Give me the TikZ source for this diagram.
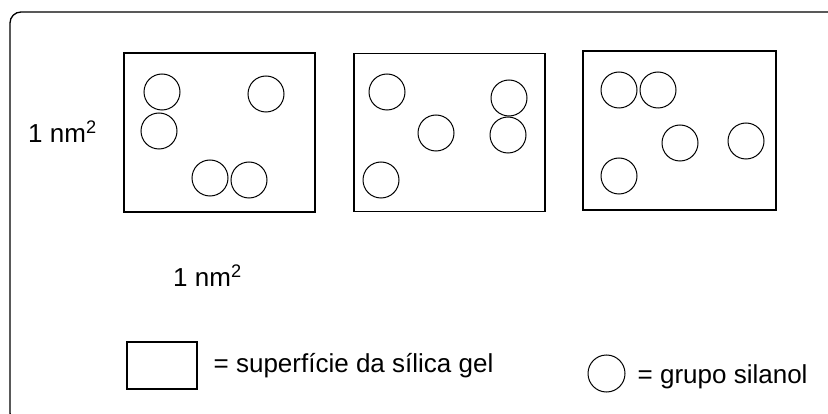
\documentclass[tikz,border=0pt]{standalone}
\usepackage{fontspec}
\setmainfont{Liberation Sans}
\begin{document}
\begin{tikzpicture}[x=1pt,y=-1pt,
  surface/.style={draw, line width=1.3pt, rectangle, inner sep=0pt},
  silanol/.style={draw, line width=1pt, circle, minimum size=36pt, inner sep=0pt},
  lbl/.style={inner sep=0pt, anchor=base west, font=\fontsize{26}{30}\selectfont}]
\useasboundingbox (0,0) rectangle (828,414);
\begin{scope}
\clip (0,0) rectangle (828,414);
\draw[line width=1.3pt, rounded corners=11pt] (10,12) rectangle (870,424);
\end{scope}
% surfaces
\node[surface, minimum width=191pt, minimum height=159pt] (s1) at (219.5,132.5) {};
\node[surface, minimum width=191pt, minimum height=158pt] (s2) at (449.5,132.5) {};
\node[surface, minimum width=193pt, minimum height=159pt] (s3) at (679.5,130.5) {};
% silanol groups, surface 1
\node[silanol] (c1) at (162,92) {};
\node[silanol] (c2) at (159,131) {};
\node[silanol] (c3) at (266,94) {};
\node[silanol] (c4) at (210,178) {};
\node[silanol] (c5) at (249,180) {};
% surface 2
\node[silanol] (c6) at (387,92) {};
\node[silanol] (c7) at (381,180) {};
\node[silanol] (c8) at (436,133) {};
\node[silanol] (c9) at (509,98) {};
\node[silanol] (c10) at (508,135) {};
% surface 3
\node[silanol] (c11) at (619,90) {};
\node[silanol] (c12) at (658,90) {};
\node[silanol] (c13) at (680,143) {};
\node[silanol] (c14) at (746,141) {};
\node[silanol] (c15) at (619,176) {};
% labels
\node[lbl] (h) at (28,143) {1 nm\textsuperscript{2}};
\node[lbl] (w) at (173,287) {1 nm\textsuperscript{2}};
% legend
\node[surface, minimum width=70pt, minimum height=47pt] (ls) at (162,365.5) {};
\node[lbl] (lst) at (213.5,373) {= superfície da sílica gel};
\node[silanol, minimum size=37pt] (lc) at (606.5,373.5) {};
\node[lbl] (lct) at (637.5,383) {= grupo silanol};
\end{tikzpicture}
\end{document}
